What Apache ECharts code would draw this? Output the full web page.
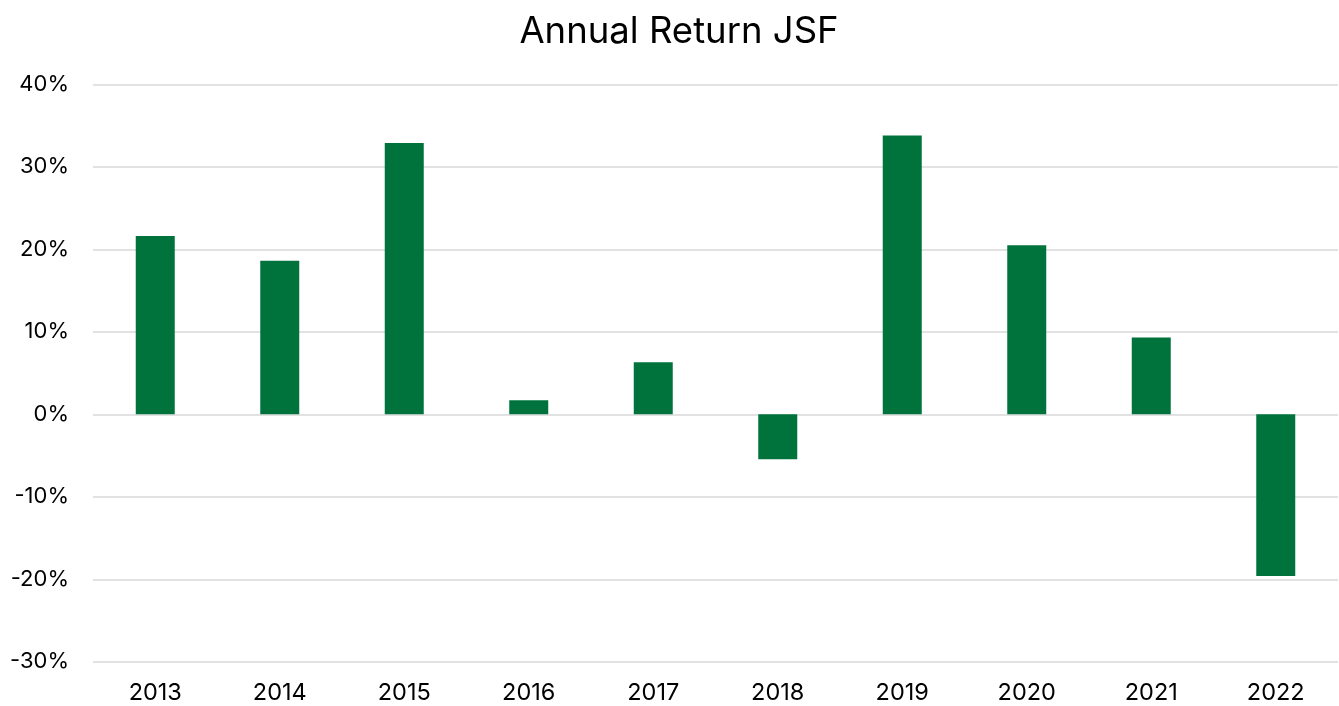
<!DOCTYPE html>
<html>
<head>
<meta charset="utf-8">
<script src="https://cdn.jsdelivr.net/npm/echarts@6/dist/echarts.min.js"></script>
<style>
html,body{margin:0;padding:0;background:#fff;}
#chart{width:1339px;height:706px;}
</style>
</head>
<body>
<div id="chart"></div>
<script>
const years = ['2013','2014','2015','2016','2017','2018','2019','2020','2021','2022'];
const annualReturn = [21.6, 18.6, 32.9, 1.7, 6.3, -5.45, 33.8, 20.5, 9.3, -19.6];
const yTicks = { min: -30, max: 40, interval: 10 };
const titleText = 'Annual Return JSF';

const chart = echarts.init(document.getElementById('chart'));
chart.setOption({
  animation: false,
  backgroundColor: '#ffffff',
  title: {
    text: titleText,
    left: 674,
    top: 9,
    textAlign: 'center',
    textStyle: { fontFamily: 'Inter', fontSize: 36.5, fontWeight: 'normal', color: '#000000' }
  },
  grid: { left: 93, right: 1, top: 84.3, bottom: 44.2, containLabel: false },
  xAxis: {
    type: 'category',
    data: years,
    axisLine: { show: false, onZero: false },
    axisTick: { show: false },
    axisLabel: { fontFamily: 'Inter', fontSize: 23.5, color: '#000000', margin: 19 },
    splitLine: { show: false }
  },
  yAxis: {
    type: 'value',
    min: yTicks.min,
    max: yTicks.max,
    interval: yTicks.interval,
    axisLine: { show: false },
    axisTick: { show: false },
    axisLabel: { fontFamily: 'Inter', fontSize: 22, color: '#000000', margin: 24, formatter: '{value}%' },
    splitLine: { lineStyle: { color: '#d9d9d9', width: 1.5 } }
  },
  series: [{
    type: 'bar',
    data: annualReturn,
    barWidth: 39,
    itemStyle: { color: '#00733d' }
  }]
});
</script>
</body>
</html>
